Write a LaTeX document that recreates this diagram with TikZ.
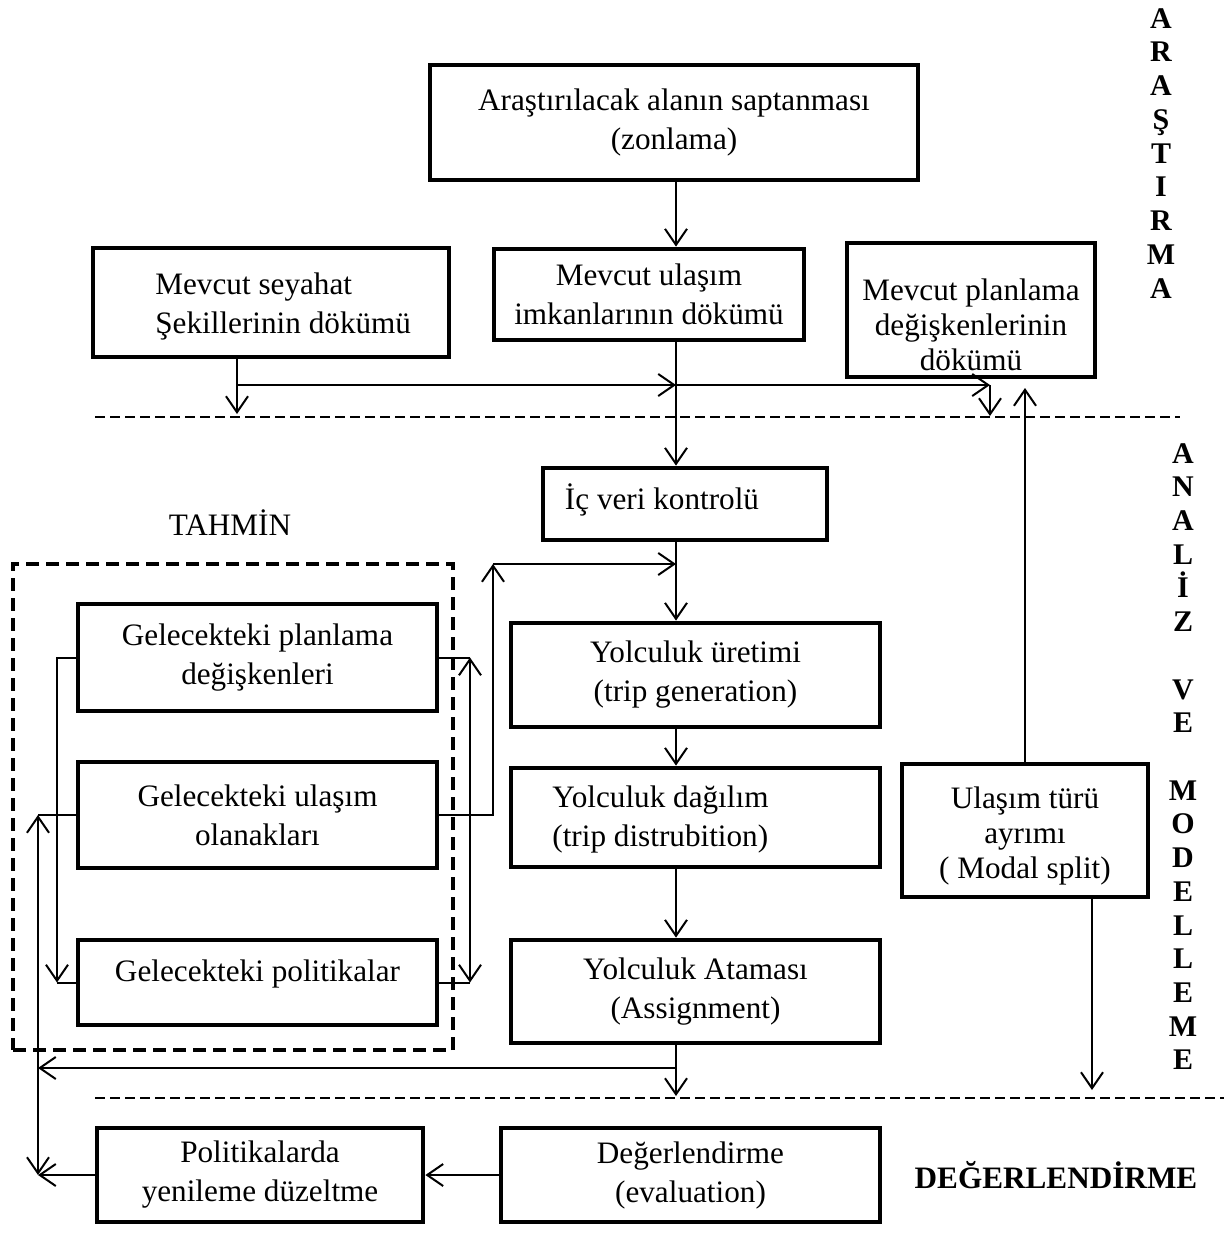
\documentclass[tikz,border=0pt]{standalone}
\usepackage{fontspec}
\setmainfont{Liberation Serif}
\usetikzlibrary{arrows.meta}
\newcommand\boxfont{\fontsize{15.6}{19.5}\selectfont}
\newcommand\tallfont{\fontsize{15.6}{17.5}\selectfont}
\newcommand\sidefont{\fontsize{15}{17}\selectfont\bfseries}
\begin{document}
\begin{tikzpicture}[x=0.5pt,y=-0.5pt,
  box/.style={draw, line width=2.4pt, inner sep=0pt, align=center, font=\boxfont},
  txt/.style={inner sep=0pt, align=center, font=\boxfont},
  conn/.style={line width=1pt},
  arr/.style={conn, -{Straight Barb[length=8pt,width=11pt]}},
  darr/.style={conn, {Straight Barb[length=8pt,width=11pt]}-{Straight Barb[length=8pt,width=11pt]}},
  sep/.style={line width=0.8pt, dash pattern=on 5pt off 2.5pt},
  groupbox/.style={draw, line width=2.4pt, dash pattern=on 6.5pt off 3.5pt, inner sep=0pt},
  sidelabel/.style={inner sep=0pt, font=\sidefont, anchor=base}]
\fill[white] (0,0) rectangle (1224,1244);
\useasboundingbox (0,0) rectangle (1224,1244);

% --- research stage ---
\node[box, minimum width=244pt, minimum height=57.5pt] (zon) at (674,122.5)
  {Araştırılacak alanın saptanması\\(zonlama)};
\node[box, minimum width=178pt, minimum height=54.5pt] (sey) at (271,302.5) {};
\node[txt, align=left, anchor=west] (seyT) at (155,306) {Mevcut seyahat\\Şekillerinin dökümü};
\node[box, minimum width=155pt, minimum height=45.5pt] (ula) at (649,294.5)
  {Mevcut ulaşım\\imkanlarının dökümü};
\node[box, minimum width=124pt, minimum height=67pt] (pld) at (971,310) {};
\node[txt, font=\tallfont] (pldT) at (971,325) {Mevcut planlama\\değişkenlerinin\\dökümü};

% --- analysis and modelling stage ---
\node[box, minimum width=142pt, minimum height=36pt] (icv) at (685,504) {};
\node[txt] (icvT) at (662,500) {İç veri kontrolü};
\node[box, minimum width=184.5pt, minimum height=52pt] (ure) at (695.5,675)
  {Yolculuk üretimi\\(trip generation)};
\node[box, minimum width=184.5pt, minimum height=49.5pt] (dag) at (695.5,817.5) {};
\node[txt, align=left, anchor=west] (dagT) at (552,819) {Yolculuk dağılım\\(trip distrubition)};
\node[box, minimum width=184.5pt, minimum height=51.5pt] (ata) at (695.5,991.5)
  {Yolculuk Ataması\\(Assignment)};
\node[box, minimum width=123pt, minimum height=66.5pt] (mod) at (1025,830.5) {};
\node[txt, font=\tallfont] (modT) at (1025,836) {Ulaşım türü\\ayrımı\\( Modal split)};

% --- forecasting group ---
\node[txt] (tahT) at (230,523) {TAHMİN};
\node[groupbox, minimum width=220pt, minimum height=243pt] (tah) at (233,807) {};
\node[box, minimum width=179.5pt, minimum height=53.5pt] (gpl) at (257.5,657.5)
  {Gelecekteki planlama\\değişkenleri};
\node[box, minimum width=179.5pt, minimum height=53pt] (gul) at (257.5,815)
  {Gelecekteki ulaşım\\olanakları};
\node[box, minimum width=179.5pt, minimum height=42.5pt] (gpo) at (257.5,982.5) {};
\node[txt] (gpoT) at (257.5,974) {Gelecekteki politikalar};

% --- evaluation stage ---
\node[box, minimum width=163pt, minimum height=47pt] (pol) at (260,1175)
  {Politikalarda\\yenileme düzeltme};
\node[box, minimum width=189.5pt, minimum height=47pt] (deg) at (690.5,1175)
  {Değerlendirme\\(evaluation)};
\node[txt, font=\boxfont\bfseries] (degL) at (1056,1175) {DEĞERLENDİRME};

% stage names written downwards
\foreach \c [count=\i from 0] in {A,R,A,Ş,T,I,R,M,A}
  \node[sidelabel] (ar\i) at (1161,28+33.75*\i) {\c};
\foreach \c/\k in {A/0,N/1,A/2,L/3,İ/4,Z/5,V/7,E/8,M/10,O/11,D/12,E/13,L/14,L/15,E/16,M/17,E/18}
  \node[sidelabel] (an\k) at (1183,463+33.72*\k) {\c};

% stage separators
\draw[sep] (95,417) -- (1180,417);
\draw[sep] (95,1098) -- (1224,1098);

% columns and junctions
\coordinate (sp) at (676,0);
\coordinate (k1) at (237,385);
\coordinate (k2) at (676,385);
\coordinate (k3) at (990,385);
\coordinate (s1) at (237,414);
\coordinate (s2) at (990,416);
\coordinate (u1) at (1025,388);
\coordinate (k4) at (493,564);
\coordinate (k5) at (676,564);
\coordinate (r1) at (470,0);
\coordinate (l1) at (57,0);
\coordinate (l2) at (38,0);
\coordinate (k6) at (676,1068);
\coordinate (s3) at (676,1096);
\coordinate (s4) at (1092,1090);

% research connectors
\draw[arr] (zon.south -| sp) -- (ula.north -| sp);
\draw[arr] (sey.south -| k1) -- (s1);
\draw[arr] (k1) -- (k2);
\draw[arr] (k2) -- (k3);
\draw[arr] (k3) -- (s2);
\draw[arr] (mod.north -| u1) -- (u1);

% main chain
\draw[arr] (ula.south -| sp) -- (icv.north -| sp);
\draw[arr] (icv.south -| sp) -- (ure.north -| sp);
\draw[arr] (ure.south -| sp) -- (dag.north -| sp);
\draw[arr] (dag.south -| sp) -- (ata.north -| sp);
\draw[arr] (ata.south -| sp) -- (s3);
\draw[arr] (mod.south -| s4) -- (s4);

% forecasting links
\draw[arr] (gul.east) -- (gul.east -| k4) -- (k4);
\draw[arr] (k4) -- (k5);
\draw[conn] (gpl.east) -- (gpl.east -| r1);
\draw[darr] (gpl.east -| r1) -- (gpo.east -| r1);
\draw[conn] (gpo.east) -- (gpo.east -| r1);
\draw[arr] (gpl.west) -- (gpl.west -| l1) -- (gpo.west -| l1);
\draw[conn] (gpo.west -| l1) -- (gpo.west);
\draw[conn] (gul.west) -- (gul.west -| l2);
\draw[darr] (gul.west -| l2) -- (pol.west -| l2);

% feedback
\draw[arr] (k6) -- (k6 -| l2);
\draw[arr] (deg.west) -- (pol.east);
\draw[arr] (pol.west) -- (pol.west -| l2);
\end{tikzpicture}
\end{document}
